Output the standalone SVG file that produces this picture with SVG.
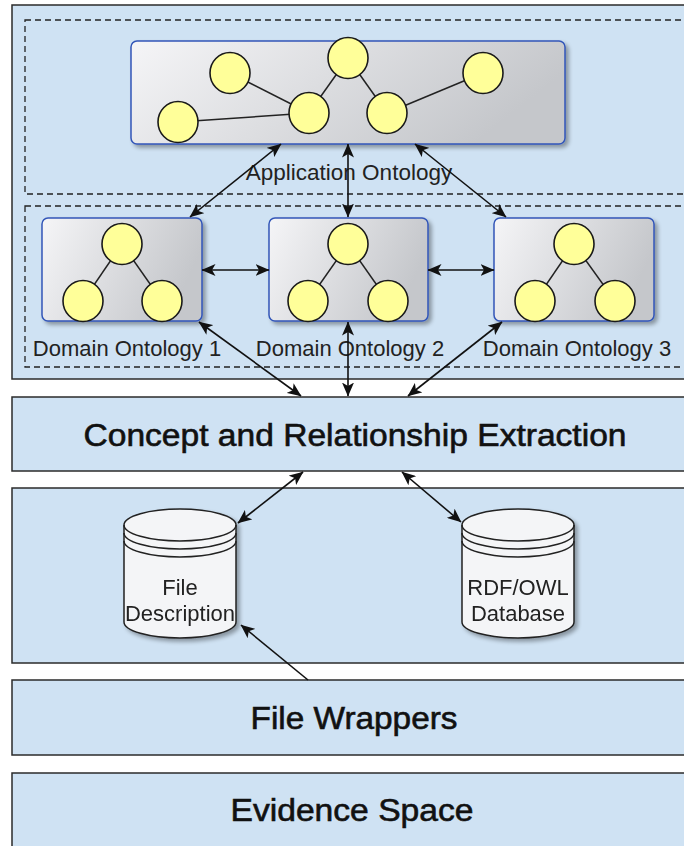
<svg xmlns="http://www.w3.org/2000/svg" width="684" height="846" viewBox="0 0 684 846">
<defs>
<style>
.band{fill:#cfe2f3;stroke:#2b2b2b;stroke-width:1.5}
.dash{fill:none;stroke:#222;stroke-width:1.3;stroke-dasharray:6,4}
.onto{fill:url(#g);stroke:#3356b8;stroke-width:1.5}
.node{fill:#ffff99;stroke:#1a1a1a;stroke-width:1.6}
.edge{stroke:#222;stroke-width:1.5;fill:none}
.conn{stroke:#111;stroke-width:1.6;fill:none}
.bi{marker-start:url(#ah);marker-end:url(#ah)}
.lbl{font-family:"Liberation Sans",Arial,sans-serif;font-size:22px;fill:#222;text-anchor:middle}
.big{font-family:"Liberation Sans",Arial,sans-serif;font-size:31px;fill:#111;stroke:#111;stroke-width:0.6;text-anchor:middle}
.cyl{fill:#f4f5f7;stroke:#222;stroke-width:1.5}
</style>
<linearGradient id="g" x1="0" y1="0" x2="1" y2="0.3">
<stop offset="0" stop-color="#f5f5f7"/>
<stop offset="1" stop-color="#c5c7cb"/>
</linearGradient>
<filter id="sh" x="-10%" y="-10%" width="130%" height="130%">
<feGaussianBlur in="SourceAlpha" stdDeviation="2"/>
<feOffset dx="3" dy="3" result="b"/>
<feComponentTransfer><feFuncA type="linear" slope="0.35"/></feComponentTransfer>
<feMerge><feMergeNode/><feMergeNode in="SourceGraphic"/></feMerge>
</filter>
<marker id="ah" viewBox="0 0 14 12" refX="13.5" refY="6" markerWidth="14" markerHeight="12" markerUnits="userSpaceOnUse" orient="auto-start-reverse">
<path d="M0,0 L14,6 L0,12 L3.5,6 Z" fill="#111"/>
</marker>
</defs>
<rect width="684" height="846" fill="#fff"/>

<g id="ontology-layer">
<rect class="band" x="12" y="5" width="686" height="374"/>
<rect class="dash" x="25" y="20" width="672" height="174"/>
<rect class="dash" x="25" y="206" width="672" height="161"/>
</g>

<g id="application-ontology">
<rect class="onto" x="131" y="41" width="434" height="103" rx="6" filter="url(#sh)"/>
<line class="edge" x1="230" y1="73" x2="309" y2="113"/>
<line class="edge" x1="348" y1="58" x2="309" y2="113"/>
<line class="edge" x1="348" y1="58" x2="387" y2="113"/>
<line class="edge" x1="483" y1="73" x2="387" y2="113"/>
<line class="edge" x1="178" y1="122" x2="309" y2="113"/>
<ellipse class="node" cx="230" cy="73" rx="20" ry="20.5"/>
<ellipse class="node" cx="348" cy="58" rx="20" ry="20.5"/>
<ellipse class="node" cx="483" cy="73" rx="20" ry="20.5"/>
<ellipse class="node" cx="178" cy="122" rx="20" ry="20.5"/>
<ellipse class="node" cx="309" cy="113" rx="20" ry="20.5"/>
<ellipse class="node" cx="387" cy="113" rx="20" ry="20.5"/>
<text class="lbl" x="349" y="180" style="font-size:22.5px">Application Ontology</text>
</g>

<g id="domain-ontology-1">
<rect class="onto" x="42" y="218" width="160" height="103" rx="6" filter="url(#sh)"/>
<line class="edge" x1="122" y1="244" x2="83" y2="301"/>
<line class="edge" x1="122" y1="244" x2="162" y2="301"/>
<ellipse class="node" cx="122" cy="244" rx="20" ry="20.5"/>
<ellipse class="node" cx="83" cy="301" rx="20" ry="20.5"/>
<ellipse class="node" cx="162" cy="301" rx="20" ry="20.5"/>
<text class="lbl" x="127" y="356">Domain Ontology 1</text>
</g>

<g id="domain-ontology-2">
<rect class="onto" x="269" y="218" width="159" height="103" rx="6" filter="url(#sh)"/>
<line class="edge" x1="348" y1="244" x2="308" y2="301"/>
<line class="edge" x1="348" y1="244" x2="388" y2="301"/>
<ellipse class="node" cx="348" cy="244" rx="20" ry="20.5"/>
<ellipse class="node" cx="308" cy="301" rx="20" ry="20.5"/>
<ellipse class="node" cx="388" cy="301" rx="20" ry="20.5"/>
<text class="lbl" x="350" y="356">Domain Ontology 2</text>
</g>

<g id="domain-ontology-3">
<rect class="onto" x="494" y="218" width="160" height="103" rx="6" filter="url(#sh)"/>
<line class="edge" x1="574" y1="244" x2="535" y2="301"/>
<line class="edge" x1="574" y1="244" x2="615" y2="301"/>
<ellipse class="node" cx="574" cy="244" rx="20" ry="20.5"/>
<ellipse class="node" cx="535" cy="301" rx="20" ry="20.5"/>
<ellipse class="node" cx="615" cy="301" rx="20" ry="20.5"/>
<text class="lbl" x="577" y="356">Domain Ontology 3</text>
</g>

<g id="concept-extraction">
<rect class="band" x="12" y="397" width="686" height="74"/>
<text class="big" x="355" y="446" textLength="543" lengthAdjust="spacingAndGlyphs">Concept and Relationship Extraction</text>
</g>

<g id="storage-layer">
<rect class="band" x="12" y="488" width="686" height="175"/>
</g>

<g id="file-description" filter="url(#sh)">
<path class="cyl" d="M124,525 A56,16 0 0 1 236,525 L236,622 A56,16 0 0 1 124,622 Z"/>
<path class="cyl" d="M124,525 A56,16 0 0 0 236,525 M124,533 A56,16 0 0 0 236,533 M124,541 A56,16 0 0 0 236,541" style="fill:none"/>
<text class="lbl" x="180" y="595">File</text>
<text class="lbl" x="180" y="621">Description</text>
</g>

<g id="rdf-owl-database" filter="url(#sh)">
<path class="cyl" d="M462,525 A56,16 0 0 1 574,525 L574,622 A56,16 0 0 1 462,622 Z"/>
<path class="cyl" d="M462,525 A56,16 0 0 0 574,525 M462,533 A56,16 0 0 0 574,533 M462,541 A56,16 0 0 0 574,541" style="fill:none"/>
<text class="lbl" x="518" y="595">RDF/OWL</text>
<text class="lbl" x="518" y="621">Database</text>
</g>

<g id="file-wrappers">
<rect class="band" x="12" y="680" width="686" height="75"/>
<text class="big" x="354" y="729" textLength="207" lengthAdjust="spacingAndGlyphs">File Wrappers</text>
</g>

<g id="evidence-space">
<rect class="band" x="12" y="773" width="686" height="80"/>
<text class="big" x="352" y="821" textLength="243" lengthAdjust="spacingAndGlyphs">Evidence Space</text>
</g>

<g id="connectors">
<line class="conn bi" x1="281" y1="144" x2="190" y2="217"/>
<line class="conn bi" x1="348" y1="144" x2="348" y2="217"/>
<line class="conn bi" x1="415" y1="144" x2="506" y2="217"/>
<line class="conn bi" x1="202" y1="270" x2="269" y2="270"/>
<line class="conn bi" x1="428" y1="270" x2="494" y2="270"/>
<line class="conn bi" x1="199" y1="322" x2="301" y2="396"/>
<line class="conn bi" x1="348" y1="322" x2="348" y2="396"/>
<line class="conn bi" x1="502" y1="322" x2="408" y2="396"/>
<line class="conn bi" x1="303" y1="472" x2="238" y2="523"/>
<line class="conn bi" x1="402" y1="472" x2="461" y2="522"/>
<line class="conn" x1="308" y1="680" x2="241" y2="625" marker-end="url(#ah)"/>
</g>
</svg>
